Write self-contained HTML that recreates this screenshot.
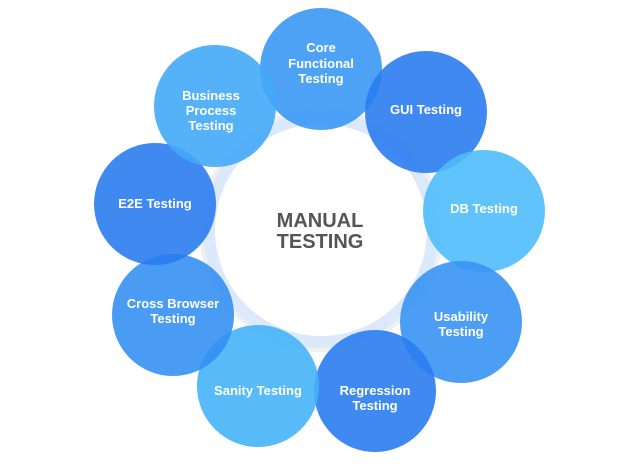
<!DOCTYPE html>
<html><head><style>
html,body{margin:0;padding:0;background:#fff}
svg{display:block}
text{font-family:"Liberation Sans",sans-serif;fill:#fff;font-size:13px;text-anchor:middle;font-weight:bold}
circle.c{fill-opacity:0.9}
</style></head><body>
<svg width="626" height="464" viewBox="0 0 626 464">
<circle cx="321" cy="230" r="122" fill="#f0f0f0"/>
<circle cx="321" cy="230" r="118" fill="#dbe9fb"/>
<circle cx="321" cy="230" r="106" fill="#fff"/>
<circle class="c" cx="321" cy="69" r="61" fill="#3a98f5"/>
<circle class="c" cx="426" cy="112" r="61" fill="#2a7cf0"/>
<circle class="c" cx="484" cy="211" r="61" fill="#4fbcfb"/>
<circle class="c" cx="461" cy="322" r="61" fill="#3894f3"/>
<circle class="c" cx="375" cy="391" r="61" fill="#2a7cf0"/>
<circle class="c" cx="258" cy="386" r="61" fill="#45b2f8"/>
<circle class="c" cx="173" cy="315" r="61" fill="#3590f2"/>
<circle class="c" cx="155" cy="204" r="61" fill="#2a7cf0"/>
<circle class="c" cx="215" cy="106" r="61" fill="#42a8f7"/>
<text x="321" y="52">Core</text><text x="321" y="68">Functional</text><text x="321" y="83">Testing</text>
<text x="426" y="114">GUI Testing</text>
<text x="484" y="213">DB Testing</text>
<text x="461" y="321">Usability</text><text x="461" y="336">Testing</text>
<text x="375" y="395">Regression</text><text x="375" y="410">Testing</text>
<text x="258" y="395">Sanity Testing</text>
<text x="173" y="308">Cross Browser</text><text x="173" y="323">Testing</text>
<text x="155" y="208">E2E Testing</text>
<text x="211" y="100">Business</text><text x="211" y="115">Process</text><text x="211" y="130">Testing</text>
<text x="320" y="227" style="fill:#555;font-size:20px">MANUAL</text>
<text x="320" y="248" style="fill:#555;font-size:20px">TESTING</text>
</svg>
</body></html>
